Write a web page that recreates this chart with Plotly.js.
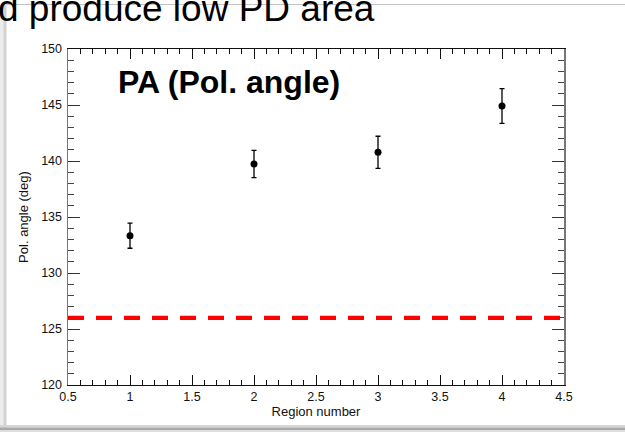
<!DOCTYPE html>
<html>
<head>
<meta charset="utf-8">
<script src="https://cdn.plot.ly/plotly-3.0.1.min.js"></script>
<style>
html,body{margin:0;padding:0;background:#fff;}
#chart{width:625px;height:432px;}
</style>
</head>
<body>
<div id="chart"></div>
<script>
// Data
const regions = [1, 2, 3, 4];
const polAngle = [133.33, 139.73, 140.78, 144.91];
const polAngleErr = [1.12, 1.22, 1.43, 1.55];
const refLineX = [0.5, 4.5];
const refLineY = [126, 126];
const headerText = "d produce low PD area";
const plotLabel = "PA (Pol. angle)";
const xTitle = "Region number";
const yTitle = "Pol. angle (deg)";

// layout geometry (pixels)
const W = 625, H = 432;
const L = 68, R = 564, T = 49, B = 385;
const px = x => (x - L) / (R - L);
const py = y => (B - y) / (B - T);

const font = "Liberation Sans, Arial, Helvetica, sans-serif";

const traces = [
  {
    x: refLineX, y: refLineY, mode: "lines", type: "scatter",
    line: {color: "#ff0000", width: 4.3, dash: "16px,12px"},
    hoverinfo: "skip", showlegend: false
  },
  {
    x: regions, y: polAngle, mode: "markers", type: "scatter",
    marker: {color: "#000", size: 7, symbol: "circle"},
    error_y: {type: "data", array: polAngleErr, visible: true, color: "#000", thickness: 1.3, width: 2.5},
    showlegend: false
  }
];

const layout = {
  width: W, height: H,
  margin: {l: L, r: W - R, t: T, b: H - B, pad: 0},
  paper_bgcolor: "#fff", plot_bgcolor: "#fff",
  showlegend: false,
  font: {family: font, color: "#000", size: 12},
  xaxis: {
    range: [0.5, 4.5], dtick: 0.5, tick0: 0.5,
    showgrid: false, zeroline: false,
    showline: true, linecolor: "#111", linewidth: 1.2, mirror: "allticks",
    ticks: "inside", ticklen: 10, tickwidth: 1, tickcolor: "#111",
    minor: {dtick: 0.1, ticks: "inside", ticklen: 5, tickcolor: "#111", tickwidth: 1, showgrid: false},
    tickfont: {family: font, size: 12.5, color: "#111"},
    ticklabelstandoff: 0,
    title: {text: xTitle, font: {family: font, size: 13, color: "#111"}, standoff: 3},
    automargin: false
  },
  yaxis: {
    range: [120, 150], dtick: 5, tick0: 120,
    showgrid: false, zeroline: false,
    showline: true, linecolor: "#777", linewidth: 1.5, mirror: "allticks",
    ticks: "inside", ticklen: 12, tickwidth: 1, tickcolor: "#333",
    minor: {dtick: 1, ticks: "inside", ticklen: 6, tickcolor: "#444", tickwidth: 1, showgrid: false},
    tickfont: {family: font, size: 12.5, color: "#111"},
    ticklabelstandoff: 2,
    title: {text: yTitle, font: {family: font, size: 13, color: "#111"}, standoff: 9},
    automargin: false
  },
  shapes: [
    // pasted-image frame: top border line
    {type: "line", xref: "paper", yref: "paper", x0: px(6), x1: px(630), y0: py(4.5), y1: py(4.5),
     line: {color: "#c4c4c4", width: 1.2}, layer: "below"},
    // left shadow band
    {type: "rect", xref: "paper", yref: "paper", x0: px(0), x1: px(3.5), y0: py(5), y1: py(428),
     fillcolor: "#ececec", line: {width: 0}, layer: "below"},
    {type: "rect", xref: "paper", yref: "paper", x0: px(3.5), x1: px(6.5), y0: py(5), y1: py(428),
     fillcolor: "#d2d2d2", line: {width: 0}, layer: "below"},
    // bottom shadow band
    {type: "rect", xref: "paper", yref: "paper", x0: px(0), x1: px(630), y0: py(425), y1: py(427.5),
     fillcolor: "#d6d6d6", line: {width: 0}, layer: "below"},
    {type: "rect", xref: "paper", yref: "paper", x0: px(0), x1: px(630), y0: py(427.5), y1: py(430),
     fillcolor: "#a9a9a9", line: {width: 0}, layer: "below"},
    {type: "rect", xref: "paper", yref: "paper", x0: px(0), x1: px(630), y0: py(430), y1: py(432),
     fillcolor: "#dedede", line: {width: 0}, layer: "below"}
  ],
  annotations: [
    {text: headerText, xref: "paper", yref: "paper", x: px(-4), y: py(8.5),
     xanchor: "left", yanchor: "middle", showarrow: false,
     font: {family: font, size: 37, color: "#000"}},
    {text: "<b>" + plotLabel + "</b>", xref: "paper", yref: "paper", x: px(116), y: py(82),
     xanchor: "left", yanchor: "middle", showarrow: false,
     font: {family: font, size: 32, color: "#000"}}
  ]
};

Plotly.newPlot("chart", traces, layout, {displayModeBar: false, staticPlot: true});
</script>
</body>
</html>
